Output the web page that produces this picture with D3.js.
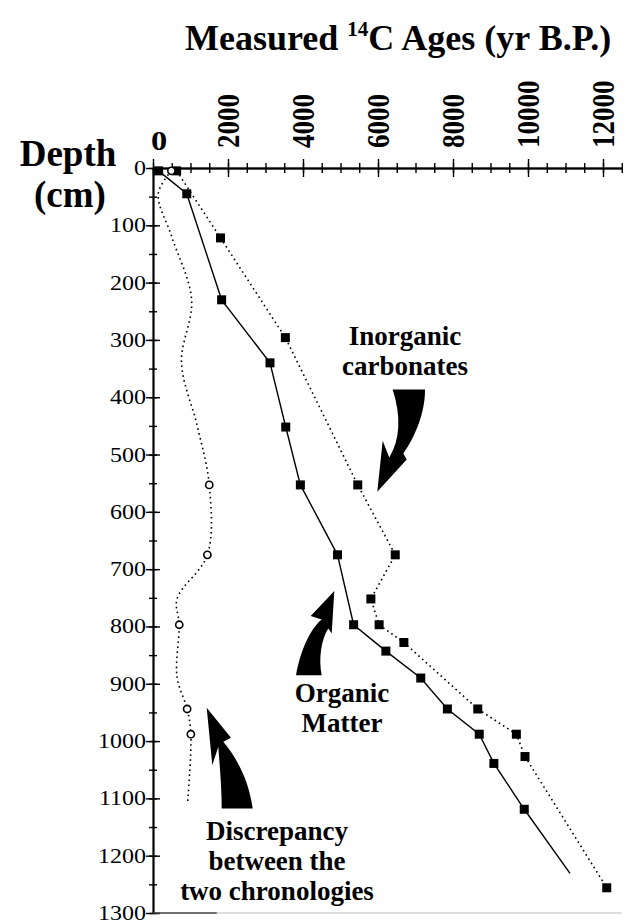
<!DOCTYPE html>
<html>
<head>
<meta charset="utf-8">
<title>Measured 14C ages against depth</title>
<script src="https://cdn.jsdelivr.net/npm/d3@7"></script>
<style>
  body { margin: 0; background: #fff; }
  svg text { font-family: "Liberation Serif", "Times New Roman", serif; fill: #000; }
</style>
</head>
<body>
<div id="main"></div>
<script>
var WIDTH = 630, HEIGHT = 922;

// organic matter ages (solid line, filled squares)
var organicDepth = [5, 45, 230, 340, 452, 553, 675, 797, 843, 890, 944, 988, 1039, 1119];
var organicAge   = [150, 900, 1830, 3120, 3540, 3930, 4920, 5350, 6210, 7140, 7850, 8700, 9090, 9900];
var organicTail  = [1231, 11120]; // line runs on past the last sample, no marker

// inorganic carbonate ages (dotted line, filled squares)
var inorgDepth = [5, 122, 296, 553, 675, 752, 797, 828, 944, 988, 1027, 1256];
var inorgAge   = [630, 1800, 3530, 5460, 6460, 5810, 6030, 6690, 8660, 9690, 9920, 12100];

// discrepancy between the two chronologies (smooth dotted line, open circles where marked)
var discDepth  = [5, 45, 120, 230, 340, 450, 553, 675, 752, 797, 888, 944, 988, 1110];
var discAge    = [490, 140, 500, 1030, 760, 1180, 1500, 1450, 640, 700, 640, 910, 1010, 920];
var discMarked = [1, 0, 0, 0, 0, 0, 1, 1, 0, 1, 0, 1, 1, 0];

var xTicks = [0, 2000, 4000, 6000, 8000, 10000, 12000];
var yTicks = d3.range(0, 1301, 100);

var svg = d3.select('#main').append('svg')
            .attr('width', WIDTH).attr('height', HEIGHT);

var x = d3.scaleLinear().domain([0, 12500]).range([153, 621.75]);
var y = d3.scaleLinear().domain([0, 1300]).range([168, 913]);

// --- axes: ticks cross the axis line, so draw each side separately
function ticks(g, axis, values, size) {
  g.call(axis.tickValues(values).tickSize(size).tickSizeOuter(0).tickFormat(''));
  g.selectAll('path, line').attr('stroke', '#000').attr('stroke-width', 1.4);
}
var xMinor = d3.range(0, 12501, 500), yMinor = d3.range(0, 1301, 50);
var gx = svg.append('g').attr('transform', 'translate(0,' + y(0) + ')');
ticks(gx.append('g'), d3.axisTop(x), xMinor, 5);
ticks(gx.append('g'), d3.axisBottom(x), xMinor, 5);
ticks(gx.append('g'), d3.axisTop(x), xTicks, 9);
ticks(gx.append('g'), d3.axisBottom(x), xTicks, 9);

var gy = svg.append('g').attr('transform', 'translate(' + x(0) + ',0)');
ticks(gy.append('g'), d3.axisLeft(y), yMinor, 4);
ticks(gy.append('g'), d3.axisRight(y), yMinor, 4);
ticks(gy.append('g'), d3.axisLeft(y), yTicks, 7);
ticks(gy.append('g'), d3.axisRight(y), yTicks, 7);

// faint bottom frame line
svg.append('line')
  .attr('x1', x(0)).attr('x2', x(12500)).attr('y1', y(1300)).attr('y2', y(1300))
  .attr('stroke', '#bbb').attr('stroke-width', 1);
svg.append('line')
  .attr('x1', x(0)).attr('x2', x(1700)).attr('y1', y(1300)).attr('y2', y(1300))
  .attr('stroke', '#000').attr('stroke-width', 1.2);

// --- tick labels (the original type is stretched sideways)
xTicks.forEach(function(v) {
  if (v === 0) {
    svg.append('text')
      .attr('transform', 'translate(' + (x(0) + 6) + ',150) scale(1.2,1)')
      .attr('text-anchor', 'middle').attr('font-size', 27).attr('font-weight', 'bold')
      .text('0');
  } else {
    svg.append('text')
      .attr('transform', 'translate(' + x(v) + ',148) scale(1.2,1) rotate(-90)')
      .attr('text-anchor', 'start').attr('dy', '0.34em')
      .attr('font-size', 27).attr('font-weight', 'bold')
      .text(v);
  }
});

yTicks.forEach(function(v) {
  svg.append('text')
    .attr('transform', 'translate(146,' + y(v) + ') scale(1.2,1)')
    .attr('text-anchor', 'end').attr('dy', '0.35em')
    .attr('font-size', 20)
    .text(v);
});

// --- titles
var title = svg.append('text')
  .attr('x', 185).attr('y', 50)
  .attr('font-size', 36).attr('font-weight', 'bold');
title.append('tspan').text('Measured ');
title.append('tspan').attr('font-size', 21).attr('dy', -14).text('14');
title.append('tspan').attr('dy', 14).text('C Ages (yr B.P.)');

svg.append('text')
  .attr('x', 68).attr('y', 166)
  .attr('text-anchor', 'middle').attr('font-size', 37).attr('font-weight', 'bold')
  .text('Depth');
svg.append('text')
  .attr('x', 70).attr('y', 207)
  .attr('text-anchor', 'middle').attr('font-size', 37).attr('font-weight', 'bold')
  .text('(cm)');

// --- series
var organic = organicDepth.map(function(d, i) { return [organicAge[i], d]; });
var inorg   = inorgDepth.map(function(d, i) { return [inorgAge[i], d]; });
var disc    = discDepth.map(function(d, i) { return [discAge[i], d, discMarked[i]]; });

var line = d3.line().x(function(p) { return x(p[0]); }).y(function(p) { return y(p[1]); });

svg.append('path')
  .attr('d', line.curve(d3.curveCatmullRom.alpha(0.5))(disc))
  .attr('fill', 'none').attr('stroke', '#000').attr('stroke-width', 1.6)
  .attr('stroke-dasharray', '1.6,3.4');

svg.append('path')
  .attr('d', line.curve(d3.curveLinear)(inorg))
  .attr('fill', 'none').attr('stroke', '#000').attr('stroke-width', 1.6)
  .attr('stroke-dasharray', '1.6,3.4');

svg.append('path')
  .attr('d', line.curve(d3.curveLinear)(organic.concat([[organicTail[1], organicTail[0]]])))
  .attr('fill', 'none').attr('stroke', '#000').attr('stroke-width', 1.4);

var SQ = 9;
svg.selectAll('.sq').data(organic.concat(inorg))
  .enter().append('rect')
    .attr('class', 'sq')
    .attr('x', function(p) { return x(p[0]) - SQ / 2; })
    .attr('y', function(p) { return y(p[1]) - SQ / 2; })
    .attr('width', SQ).attr('height', SQ)
    .attr('fill', '#000');

svg.selectAll('.circ').data(disc.filter(function(p) { return p[2]; }))
  .enter().append('circle')
    .attr('class', 'circ')
    .attr('cx', function(p) { return x(p[0]); })
    .attr('cy', function(p) { return y(p[1]); })
    .attr('r', 3.6)
    .attr('fill', '#fff').attr('stroke', '#000').attr('stroke-width', 1.6);

// --- curved pointer arrows, tip placed in data units, shape in px around the tip
var arrows = [
  { age: 5981, depth: 565,
    d: 'M15.4,-102.4 L47.7,-102.4 C48,-80 38,-55 26,-38.4 L29.4,-32.4 L0,0 L5.4,-51 L12,-34.4 Q28.3,-61.6 15.4,-102.4 Z' },
  { age: 4835, depth: 738,
    d: 'M-38.3,84.3 L-12.6,84.3 C-16,68 -13,48 -6,37.6 L-2.6,42.6 L0,0 L-23.6,25 L-12.6,28.6 C-22,36 -33,55 -38.3,84.3 Z' },
  { age: 1432, depth: 942,
    d: 'M0,0 L24.3,30 L16.6,34 C30,50 42,72 46,100.6 L15,100.6 C15,80 13,58 11.6,39 L5.6,57.3 Z' }
];
svg.selectAll('.arrow').data(arrows)
  .enter().append('path')
    .attr('class', 'arrow')
    .attr('transform', function(a) { return 'translate(' + x(a.age) + ',' + y(a.depth) + ')'; })
    .attr('d', function(a) { return a.d; })
    .attr('fill', '#000');

// --- annotations
var notes = [
  { cx: 405, y0: 345, lines: ['Inorganic', 'carbonates'] },
  { cx: 342, y0: 702, lines: ['Organic', 'Matter'] },
  { cx: 277, y0: 840, lines: ['Discrepancy', 'between the', 'two chronologies'] }
];
notes.forEach(function(n) {
  n.lines.forEach(function(s, i) {
    svg.append('text')
      .attr('x', n.cx).attr('y', n.y0 + i * 30)
      .attr('text-anchor', 'middle').attr('font-size', 27).attr('font-weight', 'bold')
      .text(s);
  });
});
</script>
</body>
</html>
